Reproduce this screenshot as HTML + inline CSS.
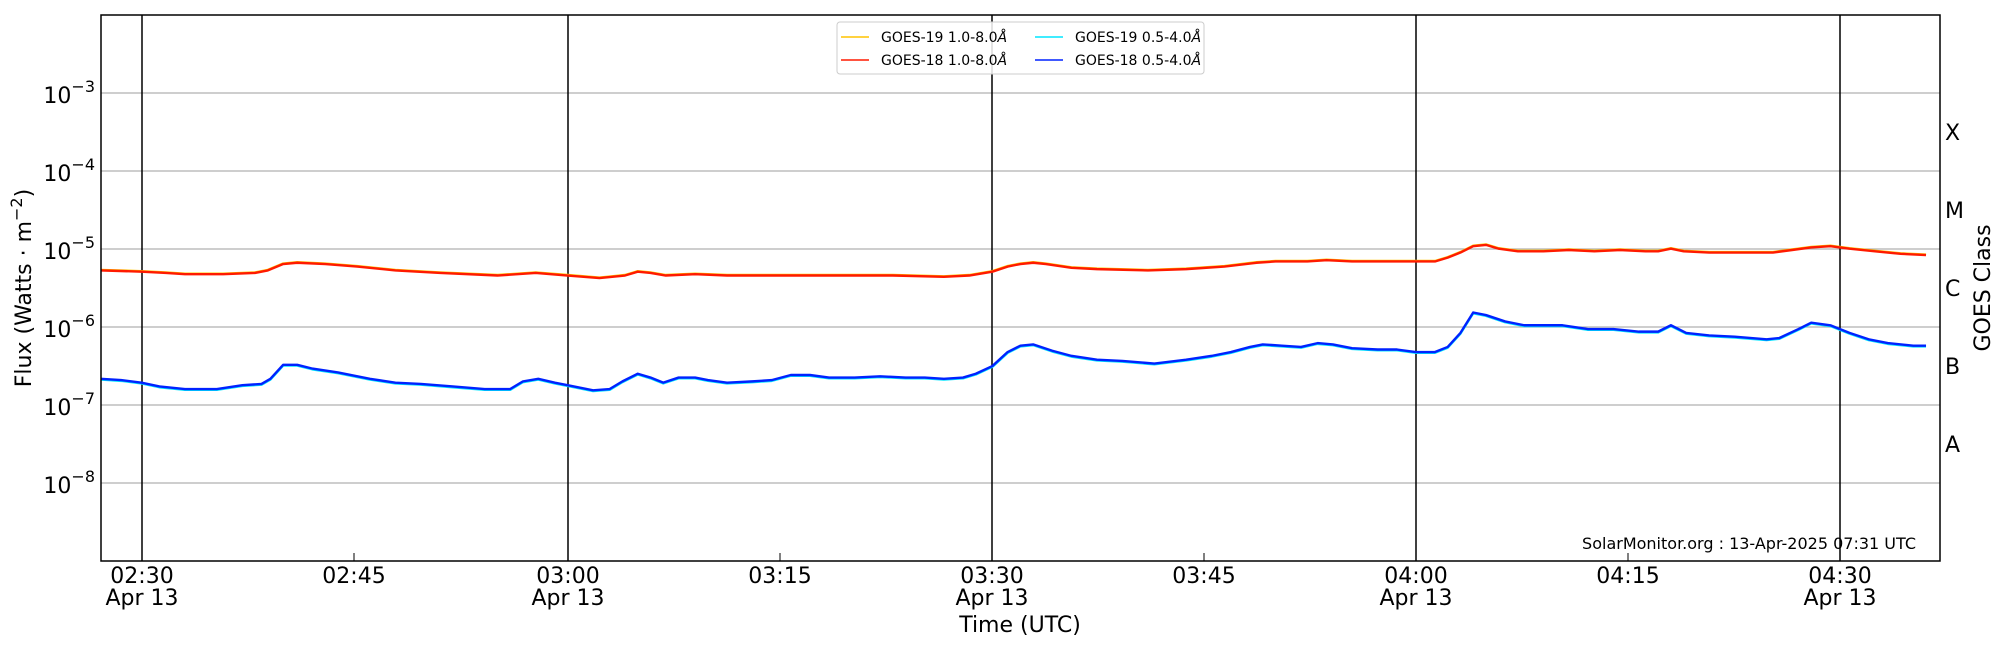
<!DOCTYPE html>
<html><head><meta charset="utf-8"><style>
html,body{margin:0;padding:0;background:#fff;}
svg{display:block;font-family:"DejaVu Sans","Liberation Sans",sans-serif;}
</style></head><body>
<svg id="s" width="2000" height="650" viewBox="0 0 2000 650" xmlns="http://www.w3.org/2000/svg">
<rect width="2000" height="650" fill="#fff"/>
<g id="grid" stroke="#b0b0b0" stroke-width="1.2">
<line x1="101" x2="1940" y1="93" y2="93"/><line x1="101" x2="1940" y1="171" y2="171"/>
<line x1="101" x2="1940" y1="249" y2="249"/><line x1="101" x2="1940" y1="327" y2="327"/>
<line x1="101" x2="1940" y1="405" y2="405"/><line x1="101" x2="1940" y1="483" y2="483"/>
</g>
<g stroke="#000" stroke-width="1.5">
<line x1="142" x2="142" y1="15" y2="561"/><line x1="568" x2="568" y1="15" y2="561"/>
<line x1="992" x2="992" y1="15" y2="561"/><line x1="1416" x2="1416" y1="15" y2="561"/>
<line x1="1840" x2="1840" y1="15" y2="561"/>
</g>
<g transform="scale(1.27551)" fill="none" stroke-linejoin="round">
<polyline vector-effect="non-scaling-stroke" stroke="#ffc400" stroke-width="2.4" points="79,212 111,213 130,214 145,215 175,215 200,214 210,212 222,207 233,206 255,207 280,209 310,212 345,214 390,216 420,214 445,216 470,218 480,217 490,216 500,213 510,214 522,216 545,215 570,216 620,216 660,216 700,216 740,217 760,216 778,213 790,209 800,207 810,206 820,207 840,210 860,211 900,212 930,211 960,209 985,206 1000,205 1025,205 1040,204 1060,205 1080,205 1110,205 1125,205 1135,202 1145,198 1155,193 1165,192 1175,195 1190,197 1210,197 1230,196 1250,197 1270,196 1290,197 1300,197 1310,195 1320,197 1340,198 1360,198 1390,198 1405,196 1420,194 1435,193 1450,195 1470,197 1490,199 1510,200" transform="translate(0,-0.4)"/>
<polyline vector-effect="non-scaling-stroke" stroke="#ff1a00" stroke-width="2.4" points="79,212 111,213 130,214 145,215 175,215 200,214 210,212 222,207 233,206 255,207 280,209 310,212 345,214 390,216 420,214 445,216 470,218 480,217 490,216 500,213 510,214 522,216 545,215 570,216 620,216 660,216 700,216 740,217 760,216 778,213 790,209 800,207 810,206 820,207 840,210 860,211 900,212 930,211 960,209 985,206 1000,205 1025,205 1040,204 1060,205 1080,205 1110,205 1125,205 1135,202 1145,198 1155,193 1165,192 1175,195 1190,197 1210,197 1230,196 1250,197 1270,196 1290,197 1300,197 1310,195 1320,197 1340,198 1360,198 1390,198 1405,196 1420,194 1435,193 1450,195 1470,197 1490,199 1510,200"/>
<polyline vector-effect="non-scaling-stroke" stroke="#00e5ff" stroke-width="2.4" transform="translate(0,0.6)" points="79,297 95,298 111,300 125,303 145,305 170,305 190,302 205,301 212,297 222,286 233,286 245,289 265,292 290,297 310,300 330,301 355,303 380,305 400,305 410,299 422,297 435,300 445,302 465,306 478,305 488,299 500,293 510,296 520,300 532,296 545,296 555,298 570,300 590,299 605,298 620,294 635,294 650,296 670,296 690,295 710,296 725,296 740,297 755,296 765,293 778,287 790,276 800,271 810,270 825,275 840,279 860,282 880,283 905,285 930,282 950,279 965,276 980,272 990,270 1005,271 1020,272 1033,269 1045,270 1060,273 1080,274 1095,274 1110,276 1125,276 1135,272 1145,261 1155,245 1165,247 1180,252 1195,255 1210,255 1225,255 1245,258 1265,258 1285,260 1300,260 1310,255 1322,261 1340,263 1360,264 1385,266 1395,265 1410,258 1420,253 1435,255 1450,261 1465,266 1480,269 1500,271 1510,271"/>
<polyline vector-effect="non-scaling-stroke" stroke="#0022ff" stroke-width="2.4" points="79,297 95,298 111,300 125,303 145,305 170,305 190,302 205,301 212,297 222,286 233,286 245,289 265,292 290,297 310,300 330,301 355,303 380,305 400,305 410,299 422,297 435,300 445,302 465,306 478,305 488,299 500,293 510,296 520,300 532,296 545,296 555,298 570,300 590,299 605,298 620,294 635,294 650,296 670,296 690,295 710,296 725,296 740,297 755,296 765,293 778,287 790,276 800,271 810,270 825,275 840,279 860,282 880,283 905,285 930,282 950,279 965,276 980,272 990,270 1005,271 1020,272 1033,269 1045,270 1060,273 1080,274 1095,274 1110,276 1125,276 1135,272 1145,261 1155,245 1165,247 1180,252 1195,255 1210,255 1225,255 1245,258 1265,258 1285,260 1300,260 1310,255 1322,261 1340,263 1360,264 1385,266 1395,265 1410,258 1420,253 1435,255 1450,261 1465,266 1480,269 1500,271 1510,271"/>
</g>
<g id="ticks" stroke="#000" stroke-width="1"></g>
<g stroke="#000" stroke-width="1">
<line x1="354" x2="354" y1="561" y2="553"/><line x1="780" x2="780" y1="561" y2="553"/>
<line x1="1204" x2="1204" y1="561" y2="553"/><line x1="1628" x2="1628" y1="561" y2="553"/>
</g>
<rect x="101" y="15" width="1839" height="546" fill="none" stroke="#000" stroke-width="1.5"/>
<g font-size="22" fill="#000">
<text x="95" y="103" text-anchor="end">10<tspan dy="-11" font-size="16">−3</tspan></text>
<text x="95" y="181" text-anchor="end">10<tspan dy="-11" font-size="16">−4</tspan></text>
<text x="95" y="259" text-anchor="end">10<tspan dy="-11" font-size="16">−5</tspan></text>
<text x="95" y="337" text-anchor="end">10<tspan dy="-11" font-size="16">−6</tspan></text>
<text x="95" y="415" text-anchor="end">10<tspan dy="-11" font-size="16">−7</tspan></text>
<text x="95" y="493" text-anchor="end">10<tspan dy="-11" font-size="16">−8</tspan></text>
<text x="1945" y="140">X</text><text x="1945" y="218">M</text><text x="1945" y="296">C</text>
<text x="1945" y="374">B</text><text x="1945" y="452">A</text>
<g text-anchor="middle">
<text x="142" y="583">02:30</text><text x="142" y="605">Apr 13</text>
<text x="354" y="583">02:45</text>
<text x="568" y="583">03:00</text><text x="568" y="605">Apr 13</text>
<text x="780" y="583">03:15</text>
<text x="992" y="583">03:30</text><text x="992" y="605">Apr 13</text>
<text x="1204" y="583">03:45</text>
<text x="1416" y="583">04:00</text><text x="1416" y="605">Apr 13</text>
<text x="1628" y="583">04:15</text>
<text x="1840" y="583">04:30</text><text x="1840" y="605">Apr 13</text>
<text x="1020" y="632">Time (UTC)</text>
<text transform="translate(31,288) rotate(-90)">Flux (Watts · m<tspan dy="-9" font-size="16">−2</tspan><tspan dy="9">)</tspan></text>
<text transform="translate(1990,288) rotate(-90)">GOES Class</text>
</g>
<text x="1916" y="549" font-size="16" text-anchor="end">SolarMonitor.org : 13-Apr-2025 07:31 UTC</text>
</g>
<g>
<rect x="837" y="22" width="367" height="52" rx="3" fill="#fff" fill-opacity="0.85" stroke="#ccc" stroke-width="1"/>
<line x1="841" x2="869" y1="37" y2="37" stroke="#ffc400" stroke-width="1.5"/>
<line x1="841" x2="869" y1="60" y2="60" stroke="#ff1a00" stroke-width="1.5"/>
<line x1="1035" x2="1063" y1="37" y2="37" stroke="#00e5ff" stroke-width="1.5"/>
<line x1="1035" x2="1063" y1="60" y2="60" stroke="#0022ff" stroke-width="1.5"/>
<g font-size="14" fill="#000">
<text x="881" y="42">GOES-19 1.0-8.0<tspan font-style="italic">Å</tspan></text>
<text x="881" y="65">GOES-18 1.0-8.0<tspan font-style="italic">Å</tspan></text>
<text x="1075" y="42">GOES-19 0.5-4.0<tspan font-style="italic">Å</tspan></text>
<text x="1075" y="65">GOES-18 0.5-4.0<tspan font-style="italic">Å</tspan></text>
</g>
</g>
<script>
(function(){var g=document.getElementById('ticks'),h='';
for(var d=0;d<7;d++){var base=561-78*d;
for(var k=1;k<10;k++){var y=base-78*Math.log10(k);var L=(k==1)?10:6;
h+='<line x1="101" x2="'+(101+L)+'" y1="'+y+'" y2="'+y+'"/>';
h+='<line x1="1940" x2="'+(1940-L)+'" y1="'+y+'" y2="'+y+'"/>';}}
g.innerHTML=h;})();
</script>
</svg>
</body></html>
